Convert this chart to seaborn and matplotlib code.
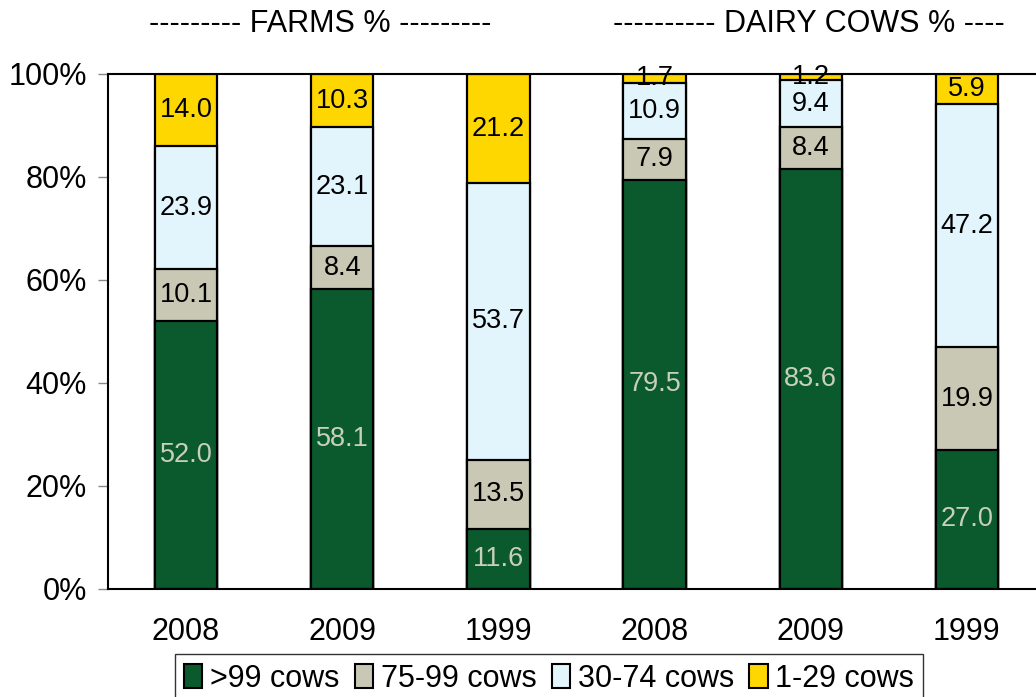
import numpy as np
import pandas as pd
import matplotlib
matplotlib.use("Agg")
import matplotlib.pyplot as plt
import seaborn as sns
from matplotlib.patches import Patch

# data
bar_keys = ["F2008", "F2009", "F1999", "C2008", "C2009", "C1999"]
year_labels = ["2008", "2009", "1999", "2008", "2009", "1999"]
classes = [">99 cows", "75-99 cows", "30-74 cows", "1-29 cows"]
over_99 = [52.0, 58.1, 11.6, 79.5, 83.6, 27.0]
cows_75_99 = [10.1, 8.4, 13.5, 7.9, 8.4, 19.9]
cows_30_74 = [23.9, 23.1, 53.7, 10.9, 9.4, 47.2]
cows_1_29 = [14.0, 10.3, 21.2, 1.7, 1.2, 5.9]
colors = ["#0b5a2e", "#c8c8b4", "#e2f4fc", "#ffd700"]
label_colors = ["#c8d0bc", "black", "black", "black"]

sns.set_theme(style="white")
plt.rcParams["font.family"] = ["Liberation Sans", "DejaVu Sans"]
plt.rcParams["text.color"] = "black"
plt.rcParams["xtick.labelcolor"] = "black"
plt.rcParams["ytick.labelcolor"] = "black"

vals = np.array([over_99, cows_75_99, cows_30_74, cows_1_29])
shares = vals / vals.sum(axis=0) * 100
cum = np.cumsum(shares, axis=0)

fig = plt.figure(figsize=(10.36, 6.97), dpi=100)
ax = fig.add_axes([0.1042, 0.155, 0.9045, 0.7389])

# draw cumulative layers from the top down so each one covers the rest
for i in range(3, -1, -1):
    df = pd.DataFrame({"bar": bar_keys, "top": cum[i]})
    sns.barplot(data=df, x="bar", y="top", order=bar_keys, color=colors[i],
                width=0.4, edgecolor="black", linewidth=1.6, saturation=1,
                ax=ax)

for i in range(4):
    for j in range(6):
        mid = cum[i, j] - shares[i, j] / 2
        ax.text(j, mid, f"{vals[i, j]:.1f}", ha="center", va="center",
                fontsize=19.5, color=label_colors[i])

ax.set_xlim(-0.5, 5.5)
ax.set_ylim(0, 100)
ax.set_yticks([0, 20, 40, 60, 80, 100])
ax.set_yticklabels(["0%", "20%", "40%", "60%", "80%", "100%"], fontsize=22)
ax.set_xticks(range(6))
ax.set_xticklabels(year_labels, fontsize=22)
ax.set_xlabel("")
ax.set_ylabel("")
ax.tick_params(axis="y", length=7, width=1, color="#888888", left=True, pad=8)
ax.tick_params(axis="x", length=0, pad=20)
for s in ["left", "bottom", "top"]:
    ax.spines[s].set_color("black")
    ax.spines[s].set_linewidth(1.5)
ax.spines["right"].set_visible(False)

fig.text(0.309, 0.966, "--------- FARMS % ---------", ha="center", va="center",
         fontsize=22)
fig.text(0.781, 0.966, "---------- DAIRY COWS % ----", ha="center", va="center",
         fontsize=22)

handles = [Patch(facecolor=c, edgecolor="black", linewidth=1.5) for c in colors]
leg = fig.legend(handles, classes, loc="upper center", bbox_to_anchor=(0.53, 0.061),
                 ncol=4, fontsize=22, frameon=True, fancybox=False,
                 handlelength=0.6, handleheight=0.85, handletextpad=0.25,
                 columnspacing=0.5, borderpad=0.3, borderaxespad=0)
leg.get_frame().set_edgecolor("black")
leg.get_frame().set_linewidth(1.0)

fig.savefig("out.png", dpi=100)
